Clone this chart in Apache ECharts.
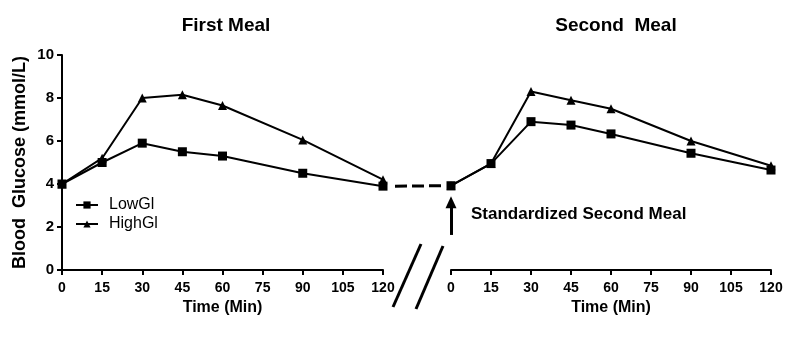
<!DOCTYPE html>
<html><head><meta charset="utf-8">
<script src="https://cdn.jsdelivr.net/npm/echarts@6/dist/echarts.min.js"></script>
<style>html,body{margin:0;padding:0;background:#fff}#c{width:800px;height:344px}</style>
</head><body><div id="c"></div>
<script>
const timePoints = [0, 15, 30, 45, 60, 90, 120];
const xTicks = [0, 15, 30, 45, 60, 75, 90, 105, 120];
const yTicks = [0, 2, 4, 6, 8, 10];
const lowGI_first = [4.0, 5.0, 5.9, 5.5, 5.3, 4.5, 3.9];
const highGI_first = [4.0, 5.2, 8.0, 8.15, 7.65, 6.05, 4.2];
const lowGI_second = [3.92, 4.95, 6.9, 6.74, 6.33, 5.43, 4.65];
const highGI_second = [3.92, 4.95, 8.3, 7.9, 7.5, 6.0, 4.85];
const connector = [[0, 3.9], [1, 3.92]];
const arrowFrom = [0, 1.63];
const arrowTo = [0, 3.15];

const FONT = '"Liberation Sans", Arial, sans-serif';
const pairs = (xs, ys) => xs.map((x, i) => [x, ys[i]]);

const xAxisBase = (gi) => ({
  type: 'value', gridIndex: gi, min: 0, max: 120, interval: 15,
  axisLine: { lineStyle: { color: '#000', width: 2 } },
  axisTick: { show: true, length: 5, lineStyle: { color: '#000', width: 2 } },
  axisLabel: { color: '#000', fontFamily: FONT, fontWeight: 'bold', fontSize: 14, margin: 11 },
  splitLine: { show: false },
  name: 'Time (Min)', nameLocation: 'middle', nameGap: 21,
  nameTextStyle: { color: '#000', fontFamily: FONT, fontWeight: 'bold', fontSize: 16 }
});

const chart = echarts.init(document.getElementById('c'));
chart.setOption({
  animation: false,
  backgroundColor: '#fff',
  title: [
    { text: 'First Meal', left: 221, top: 11, textAlign: 'center',
      textStyle: { fontFamily: FONT, fontWeight: 'bold', fontSize: 19, color: '#000' } },
    { text: 'Second  Meal', left: 611, top: 11, textAlign: 'center',
      textStyle: { fontFamily: FONT, fontWeight: 'bold', fontSize: 19, color: '#000' } }
  ],
  legend: {
    left: 75, top: 197, orient: 'vertical', itemWidth: 22, itemHeight: 9, itemGap: 3, padding: 0,
    data: ['LowGl', 'HighGl'],
    textStyle: { fontFamily: FONT, fontSize: 16, color: '#000', padding: [0, 0, 0, 6] }
  },
  grid: [
    { left: 62, right: 417, top: 55, bottom: 74 },
    { left: 451, right: 29, top: 55, bottom: 74 },
    { left: 395, right: 356, top: 55, bottom: 74 }
  ],
  xAxis: [
    xAxisBase(0),
    xAxisBase(1),
    { type: 'value', gridIndex: 2, min: 0, max: 1, show: false }
  ],
  yAxis: [
    { type: 'value', gridIndex: 0, min: 0, max: 10, interval: 2,
      axisLine: { show: true, lineStyle: { color: '#000', width: 2 } },
      axisTick: { show: true, length: 5, lineStyle: { color: '#000', width: 2 } },
      axisLabel: { color: '#000', fontFamily: FONT, fontWeight: 'bold', fontSize: 15, margin: 8 },
      splitLine: { show: false },
      name: 'Blood  Glucose (mmol/L)', nameLocation: 'middle', nameGap: 33,
      nameTextStyle: { color: '#000', fontFamily: FONT, fontWeight: 'bold', fontSize: 18 } },
    { type: 'value', gridIndex: 1, min: 0, max: 10, show: false },
    { type: 'value', gridIndex: 2, min: 0, max: 10, show: false }
  ],
  series: [
    { name: 'HighGl', type: 'line', xAxisIndex: 0, yAxisIndex: 0, data: pairs(timePoints, highGI_first),
      symbol: 'triangle', symbolSize: 9, lineStyle: { color: '#000', width: 2 }, itemStyle: { color: '#000' }, z: 3 },
    { name: 'LowGl', type: 'line', xAxisIndex: 0, yAxisIndex: 0, data: pairs(timePoints, lowGI_first),
      symbol: 'rect', symbolSize: 9, lineStyle: { color: '#000', width: 2 }, itemStyle: { color: '#000' }, z: 4 },
    { name: 'HighGl', type: 'line', xAxisIndex: 1, yAxisIndex: 1, data: pairs(timePoints, highGI_second),
      symbol: 'triangle', symbolSize: 9, lineStyle: { color: '#000', width: 2 }, itemStyle: { color: '#000' }, z: 3,
      markLine: {
        silent: true, symbol: ['none', 'triangle'], symbolSize: [11, 12],
        lineStyle: { color: '#000', width: 3, type: 'solid' }, label: { show: false },
        data: [[{ coord: arrowFrom }, { coord: arrowTo }]]
      } },
    { name: 'LowGl', type: 'line', xAxisIndex: 1, yAxisIndex: 1, data: pairs(timePoints, lowGI_second),
      symbol: 'rect', symbolSize: 9, lineStyle: { color: '#000', width: 2 }, itemStyle: { color: '#000' }, z: 4 },
    { name: 'connector', type: 'line', xAxisIndex: 2, yAxisIndex: 2, data: connector,
      showSymbol: false, symbol: 'none', lineStyle: { color: '#000', width: 3, type: [12, 5] } }
  ],
  graphic: [
    { type: 'text', left: 471, top: 206,
      style: { text: 'Standardized Second Meal', font: 'bold 17px ' + FONT, fill: '#000' } },
    { type: 'line', shape: { x1: 393, y1: 307, x2: 421, y2: 244 }, style: { stroke: '#000', lineWidth: 3 } },
    { type: 'line', shape: { x1: 416, y1: 309, x2: 443, y2: 246 }, style: { stroke: '#000', lineWidth: 3 } }
  ]
});
</script></body></html>
